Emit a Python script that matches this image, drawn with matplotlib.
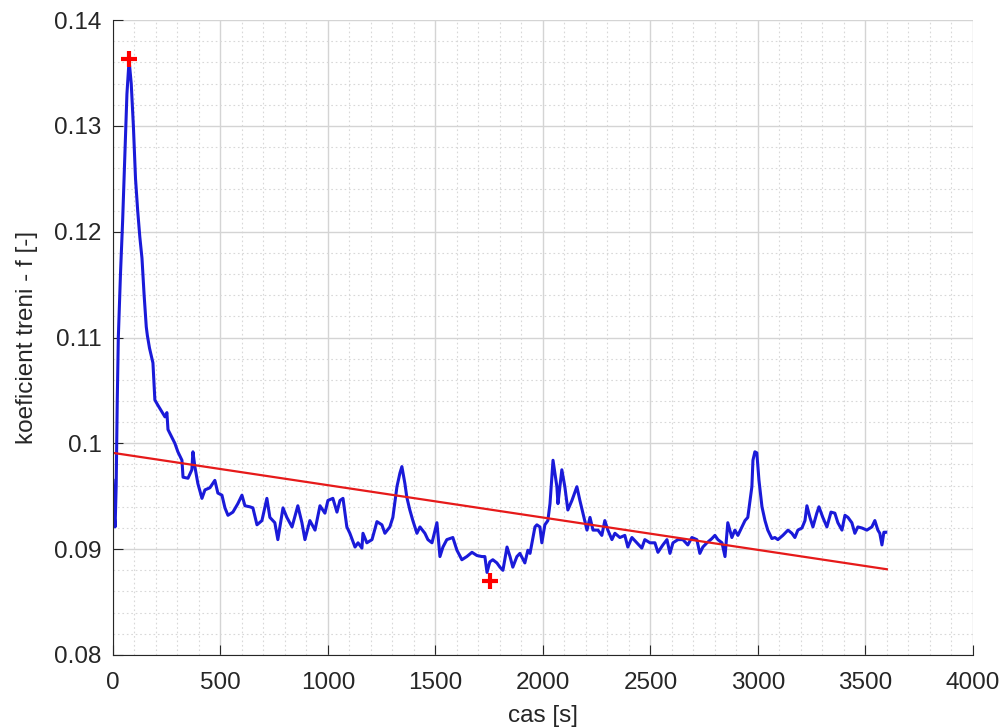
import numpy as np
import matplotlib.pyplot as plt
from matplotlib.ticker import MultipleLocator

plt.rcParams['font.family'] = ['Liberation Sans', 'DejaVu Sans']

# koeficient treni v case
t = [0, 5, 10, 15, 20, 25, 35, 45, 55, 65, 75, 85, 95, 105, 115, 125, 135, 145,
     155, 160, 170, 186, 195, 209, 242, 251, 256, 288, 302, 321, 326, 349, 367,
     372, 381, 395, 414, 428, 451, 474, 488, 507, 521, 535, 558, 581, 600, 614,
     637, 651, 670, 693, 716, 730, 753, 767, 791, 809, 833, 860, 879, 893, 916,
     940, 963, 986, 1000, 1023, 1042, 1056, 1070, 1088, 1102, 1126, 1140, 1158,
     1163, 1181, 1205, 1228, 1251, 1265, 1288, 1302, 1321, 1335, 1344, 1358,
     1367, 1381, 1395, 1414, 1428, 1451, 1465, 1484, 1507, 1521, 1535, 1553,
     1581, 1600, 1623, 1646, 1670, 1693, 1716, 1730, 1740, 1753, 1767, 1786,
     1800, 1814, 1833, 1847, 1860, 1879, 1893, 1916, 1930, 1940, 1949, 1963,
     1972, 1986, 1995, 2009, 2023, 2033, 2047, 2065, 2070, 2088, 2102, 2116,
     2135, 2158, 2172, 2186, 2205, 2219, 2233, 2256, 2274, 2288, 2302, 2321,
     2335, 2358, 2381, 2395, 2414, 2437, 2460, 2474, 2498, 2521, 2535, 2558,
     2577, 2591, 2605, 2628, 2651, 2674, 2693, 2716, 2730, 2744, 2763, 2786,
     2800, 2814, 2833, 2847, 2860, 2879, 2893, 2907, 2926, 2940, 2953, 2972,
     2977, 2986, 2995, 3005, 3019, 3033, 3046, 3065, 3079, 3093, 3116, 3140,
     3158, 3172, 3186, 3205, 3219, 3228, 3242, 3256, 3274, 3284, 3302, 3321,
     3340, 3358, 3372, 3391, 3405, 3419, 3437, 3451, 3465, 3484, 3507, 3530,
     3544, 3558, 3567, 3577, 3586, 3595]
f = [0.0965, 0.0935, 0.0921, 0.0960, 0.1040, 0.1100, 0.1160, 0.1210, 0.1270,
     0.1330, 0.1362, 0.1340, 0.1300, 0.1250, 0.1220, 0.1195, 0.1175, 0.1140,
     0.1110, 0.1102, 0.1090, 0.1076, 0.1041, 0.1036, 0.1025, 0.1029, 0.1013,
     0.1000, 0.0992, 0.0984, 0.0968, 0.0967, 0.0975, 0.0992, 0.0978, 0.0962,
     0.0948, 0.0956, 0.0958, 0.0965, 0.0953, 0.0951, 0.0939, 0.0932, 0.0935,
     0.0943, 0.0951, 0.0941, 0.0940, 0.0939, 0.0923, 0.0927, 0.0948, 0.0930,
     0.0925, 0.0909, 0.0939, 0.0930, 0.0921, 0.0941, 0.0925, 0.0909, 0.0927,
     0.0918, 0.0941, 0.0934, 0.0946, 0.0948, 0.0935, 0.0946, 0.0948, 0.0921,
     0.0915, 0.0902, 0.0906, 0.0901, 0.0915, 0.0906, 0.0909, 0.0926, 0.0923,
     0.0915, 0.0921, 0.0930, 0.0959, 0.0972, 0.0978, 0.0962, 0.0949, 0.0937,
     0.0927, 0.0915, 0.0921, 0.0915, 0.0909, 0.0906, 0.0925, 0.0893, 0.0902,
     0.0909, 0.0911, 0.0899, 0.0890, 0.0893, 0.0897, 0.0894, 0.0893, 0.0893,
     0.0878, 0.0888, 0.0890, 0.0887, 0.0883, 0.0880, 0.0902, 0.0893, 0.0883,
     0.0893, 0.0896, 0.0887, 0.0899, 0.0896, 0.0906, 0.0921, 0.0923, 0.0921,
     0.0906, 0.0923, 0.0927, 0.0943, 0.0984, 0.0959, 0.0943, 0.0975, 0.0959,
     0.0937, 0.0946, 0.0959, 0.0946, 0.0934, 0.0918, 0.0930, 0.0918, 0.0918,
     0.0913, 0.0927, 0.0918, 0.0909, 0.0915, 0.0911, 0.0913, 0.0902, 0.0911,
     0.0906, 0.0901, 0.0909, 0.0906, 0.0906, 0.0897, 0.0904, 0.0909, 0.0896,
     0.0906, 0.0909, 0.0909, 0.0904, 0.0911, 0.0909, 0.0896, 0.0902, 0.0906,
     0.0910, 0.0913, 0.0909, 0.0906, 0.0893, 0.0925, 0.0911, 0.0918, 0.0913,
     0.0921, 0.0927, 0.0930, 0.0959, 0.0984, 0.0992, 0.0991, 0.0965, 0.0940,
     0.0927, 0.0918, 0.0910, 0.0911, 0.0909, 0.0913, 0.0918, 0.0915, 0.0911,
     0.0918, 0.0920, 0.0927, 0.0941, 0.0930, 0.0921, 0.0934, 0.0940, 0.0930,
     0.0921, 0.0935, 0.0934, 0.0925, 0.0918, 0.0932, 0.0930, 0.0925, 0.0915,
     0.0921, 0.0920, 0.0918, 0.0921, 0.0927, 0.0918, 0.0915, 0.0904, 0.0916,
     0.0916]

# linearni trend
trend_t = [0, 3600]
trend_f = [0.0991, 0.0881]

# maximum a minimum
ext_t = [75, 1755]
ext_f = [0.1363, 0.0870]

fig = plt.figure(figsize=(10.04, 7.28), dpi=100)
ax = fig.add_axes([0.1125, 0.1003, 0.8565, 0.8722])

ax.plot(t, f, color=(0.1, 0.1, 0.85), lw=2.2)
ax.plot(trend_t, trend_f, color=(0.9, 0.1, 0.1), lw=1.6)
ax.plot(ext_t, ext_f, '+', color='red', ms=11, mew=3)

ax.set_xlim(0, 4000)
ax.set_ylim(0.08, 0.14)
ax.xaxis.set_major_locator(MultipleLocator(500))
ax.xaxis.set_minor_locator(MultipleLocator(100))
ax.yaxis.set_major_locator(MultipleLocator(0.01))
ax.yaxis.set_minor_locator(MultipleLocator(0.002))
ax.set_yticks([0.08, 0.09, 0.1, 0.11, 0.12, 0.13, 0.14])
ax.set_yticklabels(['0.08', '0.09', '0.1', '0.11', '0.12', '0.13', '0.14'])

ax.grid(which='major', color='#d4d4d4', lw=1.0)
ax.grid(which='minor', color='#d8d8d8', lw=0.8, ls=(0, (1.5, 2.5)))
ax.set_axisbelow(True)

ax.spines['top'].set_visible(False)
ax.spines['right'].set_visible(False)
ax.spines['left'].set_color('#262626')
ax.spines['bottom'].set_color('#262626')
ax.tick_params(which='major', direction='in', length=7, labelsize=17.5,
               colors='#262626')
ax.tick_params(which='minor', length=0)
ax.tick_params(axis='x', pad=12)
ax.tick_params(axis='y', pad=8)

ax.set_xlabel('cas [s]', fontsize=17.5, color='#262626', labelpad=8)
ax.set_ylabel('koeficient treni - f [-]', fontsize=17.5, color='#262626', labelpad=12)

fig.savefig('out.png', dpi=100)
